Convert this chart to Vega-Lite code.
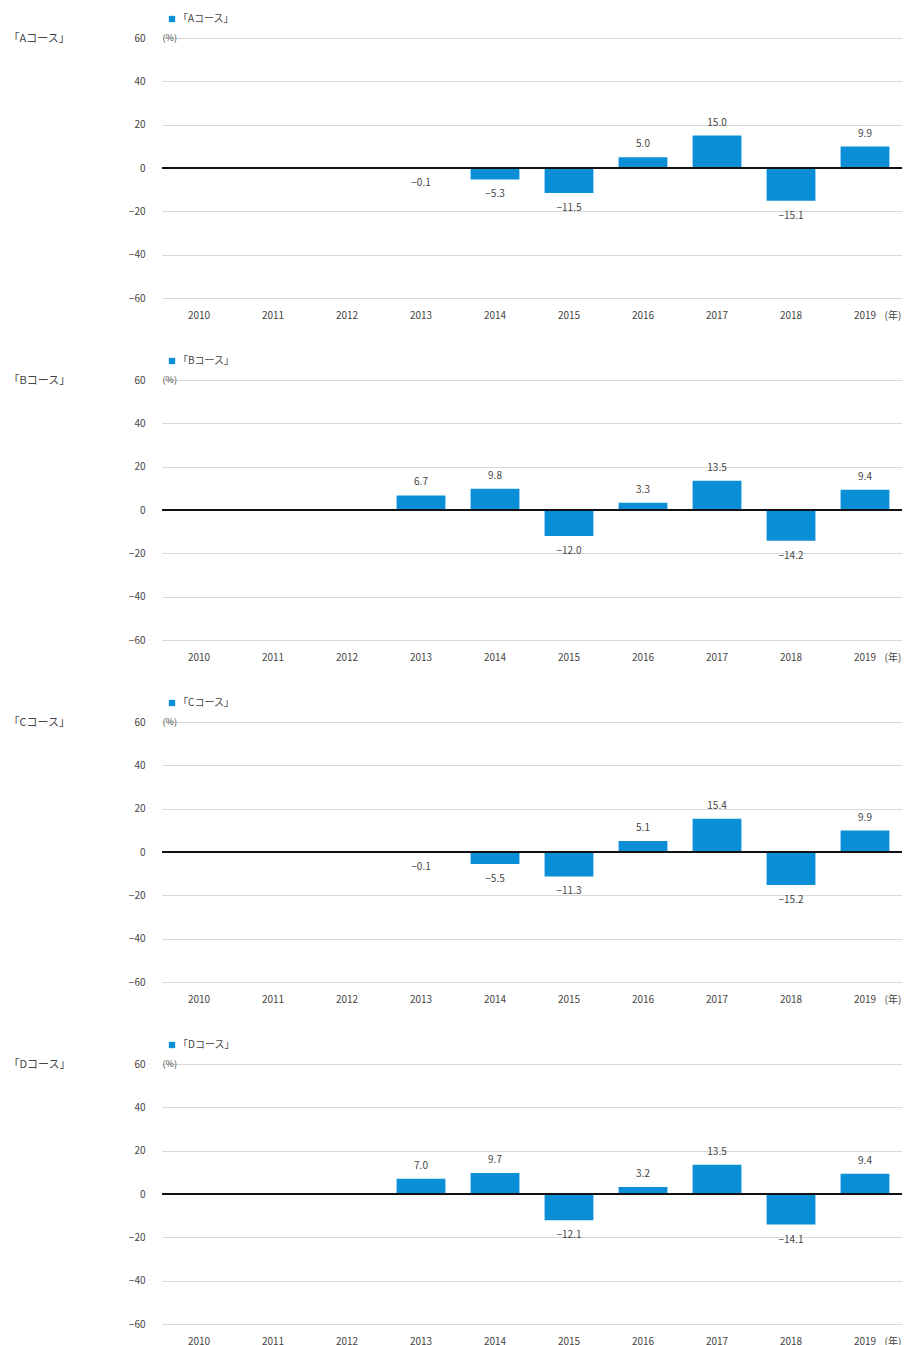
{
  "$schema": "https://vega.github.io/schema/vega-lite/v6.json",
  "padding": {"left": 8, "top": 14, "right": 5, "bottom": 5},
  "background": "#ffffff",
  "bounds": "flush",
  "spacing": 82,
  "config": {
    "font": "Noto Sans CJK JP",
    "view": {"stroke": null},
    "axis": {"labelColor": "#444444", "labelFontSize": 10, "titleColor": "#444444", "titleFontWeight": "normal", "gridColor": "#d9d9d9"},
    "legend": {"labelColor": "#444444", "labelFontSize": 10, "labelOffset": 1},
    "text": {"color": "#444444", "fontSize": 10}
  },
  "resolve": {"scale": {"color": "independent"}, "legend": {"color": "independent"}},
  "datasets": {"growth": [
    {"course": "「Aコース」", "year": "2013", "value": -0.1},
    {"course": "「Aコース」", "year": "2014", "value": -5.3},
    {"course": "「Aコース」", "year": "2015", "value": -11.5},
    {"course": "「Aコース」", "year": "2016", "value": 5.0},
    {"course": "「Aコース」", "year": "2017", "value": 15.0},
    {"course": "「Aコース」", "year": "2018", "value": -15.1},
    {"course": "「Aコース」", "year": "2019", "value": 9.9},
    {"course": "「Bコース」", "year": "2013", "value": 6.7},
    {"course": "「Bコース」", "year": "2014", "value": 9.8},
    {"course": "「Bコース」", "year": "2015", "value": -12.0},
    {"course": "「Bコース」", "year": "2016", "value": 3.3},
    {"course": "「Bコース」", "year": "2017", "value": 13.5},
    {"course": "「Bコース」", "year": "2018", "value": -14.2},
    {"course": "「Bコース」", "year": "2019", "value": 9.4},
    {"course": "「Cコース」", "year": "2013", "value": -0.1},
    {"course": "「Cコース」", "year": "2014", "value": -5.5},
    {"course": "「Cコース」", "year": "2015", "value": -11.3},
    {"course": "「Cコース」", "year": "2016", "value": 5.1},
    {"course": "「Cコース」", "year": "2017", "value": 15.4},
    {"course": "「Cコース」", "year": "2018", "value": -15.2},
    {"course": "「Cコース」", "year": "2019", "value": 9.9},
    {"course": "「Dコース」", "year": "2013", "value": 7.0},
    {"course": "「Dコース」", "year": "2014", "value": 9.7},
    {"course": "「Dコース」", "year": "2015", "value": -12.1},
    {"course": "「Dコース」", "year": "2016", "value": 3.2},
    {"course": "「Dコース」", "year": "2017", "value": 13.5},
    {"course": "「Dコース」", "year": "2018", "value": -14.1},
    {"course": "「Dコース」", "year": "2019", "value": 9.4}
  ]},
  "vconcat": [
    {
      "width": 740, "height": 260,
      "encoding": {
        "x": {"field": "year", "type": "ordinal", "scale": {"domain": ["2010","2011","2012","2013","2014","2015","2016","2017","2018","2019"], "paddingInner": 0.34, "paddingOuter": 0.17},
              "axis": {"title": "(年)", "labelAngle": 0, "domain": false, "ticks": false, "labelPadding": 12, "titleX": 722, "titleY": 12, "titleAlign": "left", "titleBaseline": "top", "titleFontSize": 10}},
        "y": {"field": "value", "type": "quantitative", "scale": {"domain": [-60, 60], "nice": false},
              "axis": {"values": [-60,-40,-20,0,20,40,60], "title": "「Aコース」", "titleAngle": 0, "titleX": -154, "titleY": 0, "titleAlign": "left", "titleBaseline": "middle", "titleFontSize": 11, "domain": false, "ticks": false, "labelPadding": 17}}
      },
      "layer": [
        {"data": {"name": "growth"}, "transform": [{"filter": "datum.course === '「Aコース」'"}], "mark": {"type": "bar"}, "encoding": {"color": {"field": "course", "type": "nominal", "scale": {"range": ["#0a8fd6"]}, "legend": {"orient": "none", "legendX": 5, "legendY": -24, "title": null, "symbolType": "square", "symbolSize": 40}}}},
        {"data": {"name": "growth"}, "transform": [{"filter": "datum.course === '「Aコース」'"}], "mark": {"type": "rule", "color": "#111111", "strokeWidth": 2}, "encoding": {"y": {"datum": 0}, "x": null}},
        {"data": {"name": "growth"}, "transform": [{"filter": "datum.course === '「Aコース」' && datum.value >= 0"}], "mark": {"type": "text", "baseline": "bottom", "dy": -8}, "encoding": {"text": {"field": "value", "format": ".1f"}}},
        {"data": {"name": "growth"}, "transform": [{"filter": "datum.course === '「Aコース」' && datum.value < 0"}], "mark": {"type": "text", "baseline": "top", "dy": 10}, "encoding": {"text": {"field": "value", "format": ".1f"}}},
        {"data": {"name": "growth"}, "transform": [{"filter": "datum.course === '「Aコース」' && datum.year === '2019'"}], "mark": {"type": "text", "align": "left", "baseline": "middle", "fontSize": 9, "dx": -12}, "encoding": {"x": {"datum": "2010", "bandPosition": 0}, "y": {"datum": 60}, "text": {"value": "(%)"}}}
      ]
    },
    {
      "width": 740, "height": 260,
      "encoding": {
        "x": {"field": "year", "type": "ordinal", "scale": {"domain": ["2010","2011","2012","2013","2014","2015","2016","2017","2018","2019"], "paddingInner": 0.34, "paddingOuter": 0.17},
              "axis": {"title": "(年)", "labelAngle": 0, "domain": false, "ticks": false, "labelPadding": 12, "titleX": 722, "titleY": 12, "titleAlign": "left", "titleBaseline": "top", "titleFontSize": 10}},
        "y": {"field": "value", "type": "quantitative", "scale": {"domain": [-60, 60], "nice": false},
              "axis": {"values": [-60,-40,-20,0,20,40,60], "title": "「Bコース」", "titleAngle": 0, "titleX": -154, "titleY": 0, "titleAlign": "left", "titleBaseline": "middle", "titleFontSize": 11, "domain": false, "ticks": false, "labelPadding": 17}}
      },
      "layer": [
        {"data": {"name": "growth"}, "transform": [{"filter": "datum.course === '「Bコース」'"}], "mark": {"type": "bar"}, "encoding": {"color": {"field": "course", "type": "nominal", "scale": {"range": ["#0a8fd6"]}, "legend": {"orient": "none", "legendX": 5, "legendY": -24, "title": null, "symbolType": "square", "symbolSize": 40}}}},
        {"data": {"name": "growth"}, "transform": [{"filter": "datum.course === '「Bコース」'"}], "mark": {"type": "rule", "color": "#111111", "strokeWidth": 2}, "encoding": {"y": {"datum": 0}, "x": null}},
        {"data": {"name": "growth"}, "transform": [{"filter": "datum.course === '「Bコース」' && datum.value >= 0"}], "mark": {"type": "text", "baseline": "bottom", "dy": -8}, "encoding": {"text": {"field": "value", "format": ".1f"}}},
        {"data": {"name": "growth"}, "transform": [{"filter": "datum.course === '「Bコース」' && datum.value < 0"}], "mark": {"type": "text", "baseline": "top", "dy": 10}, "encoding": {"text": {"field": "value", "format": ".1f"}}},
        {"data": {"name": "growth"}, "transform": [{"filter": "datum.course === '「Bコース」' && datum.year === '2019'"}], "mark": {"type": "text", "align": "left", "baseline": "middle", "fontSize": 9, "dx": -12}, "encoding": {"x": {"datum": "2010", "bandPosition": 0}, "y": {"datum": 60}, "text": {"value": "(%)"}}}
      ]
    },
    {
      "width": 740, "height": 260,
      "encoding": {
        "x": {"field": "year", "type": "ordinal", "scale": {"domain": ["2010","2011","2012","2013","2014","2015","2016","2017","2018","2019"], "paddingInner": 0.34, "paddingOuter": 0.17},
              "axis": {"title": "(年)", "labelAngle": 0, "domain": false, "ticks": false, "labelPadding": 12, "titleX": 722, "titleY": 12, "titleAlign": "left", "titleBaseline": "top", "titleFontSize": 10}},
        "y": {"field": "value", "type": "quantitative", "scale": {"domain": [-60, 60], "nice": false},
              "axis": {"values": [-60,-40,-20,0,20,40,60], "title": "「Cコース」", "titleAngle": 0, "titleX": -154, "titleY": 0, "titleAlign": "left", "titleBaseline": "middle", "titleFontSize": 11, "domain": false, "ticks": false, "labelPadding": 17}}
      },
      "layer": [
        {"data": {"name": "growth"}, "transform": [{"filter": "datum.course === '「Cコース」'"}], "mark": {"type": "bar"}, "encoding": {"color": {"field": "course", "type": "nominal", "scale": {"range": ["#0a8fd6"]}, "legend": {"orient": "none", "legendX": 5, "legendY": -24, "title": null, "symbolType": "square", "symbolSize": 40}}}},
        {"data": {"name": "growth"}, "transform": [{"filter": "datum.course === '「Cコース」'"}], "mark": {"type": "rule", "color": "#111111", "strokeWidth": 2}, "encoding": {"y": {"datum": 0}, "x": null}},
        {"data": {"name": "growth"}, "transform": [{"filter": "datum.course === '「Cコース」' && datum.value >= 0"}], "mark": {"type": "text", "baseline": "bottom", "dy": -8}, "encoding": {"text": {"field": "value", "format": ".1f"}}},
        {"data": {"name": "growth"}, "transform": [{"filter": "datum.course === '「Cコース」' && datum.value < 0"}], "mark": {"type": "text", "baseline": "top", "dy": 10}, "encoding": {"text": {"field": "value", "format": ".1f"}}},
        {"data": {"name": "growth"}, "transform": [{"filter": "datum.course === '「Cコース」' && datum.year === '2019'"}], "mark": {"type": "text", "align": "left", "baseline": "middle", "fontSize": 9, "dx": -12}, "encoding": {"x": {"datum": "2010", "bandPosition": 0}, "y": {"datum": 60}, "text": {"value": "(%)"}}}
      ]
    },
    {
      "width": 740, "height": 260,
      "encoding": {
        "x": {"field": "year", "type": "ordinal", "scale": {"domain": ["2010","2011","2012","2013","2014","2015","2016","2017","2018","2019"], "paddingInner": 0.34, "paddingOuter": 0.17},
              "axis": {"title": "(年)", "labelAngle": 0, "domain": false, "ticks": false, "labelPadding": 12, "titleX": 722, "titleY": 12, "titleAlign": "left", "titleBaseline": "top", "titleFontSize": 10}},
        "y": {"field": "value", "type": "quantitative", "scale": {"domain": [-60, 60], "nice": false},
              "axis": {"values": [-60,-40,-20,0,20,40,60], "title": "「Dコース」", "titleAngle": 0, "titleX": -154, "titleY": 0, "titleAlign": "left", "titleBaseline": "middle", "titleFontSize": 11, "domain": false, "ticks": false, "labelPadding": 17}}
      },
      "layer": [
        {"data": {"name": "growth"}, "transform": [{"filter": "datum.course === '「Dコース」'"}], "mark": {"type": "bar"}, "encoding": {"color": {"field": "course", "type": "nominal", "scale": {"range": ["#0a8fd6"]}, "legend": {"orient": "none", "legendX": 5, "legendY": -24, "title": null, "symbolType": "square", "symbolSize": 40}}}},
        {"data": {"name": "growth"}, "transform": [{"filter": "datum.course === '「Dコース」'"}], "mark": {"type": "rule", "color": "#111111", "strokeWidth": 2}, "encoding": {"y": {"datum": 0}, "x": null}},
        {"data": {"name": "growth"}, "transform": [{"filter": "datum.course === '「Dコース」' && datum.value >= 0"}], "mark": {"type": "text", "baseline": "bottom", "dy": -8}, "encoding": {"text": {"field": "value", "format": ".1f"}}},
        {"data": {"name": "growth"}, "transform": [{"filter": "datum.course === '「Dコース」' && datum.value < 0"}], "mark": {"type": "text", "baseline": "top", "dy": 10}, "encoding": {"text": {"field": "value", "format": ".1f"}}},
        {"data": {"name": "growth"}, "transform": [{"filter": "datum.course === '「Dコース」' && datum.year === '2019'"}], "mark": {"type": "text", "align": "left", "baseline": "middle", "fontSize": 9, "dx": -12}, "encoding": {"x": {"datum": "2010", "bandPosition": 0}, "y": {"datum": 60}, "text": {"value": "(%)"}}}
      ]
    }
  ]
}
